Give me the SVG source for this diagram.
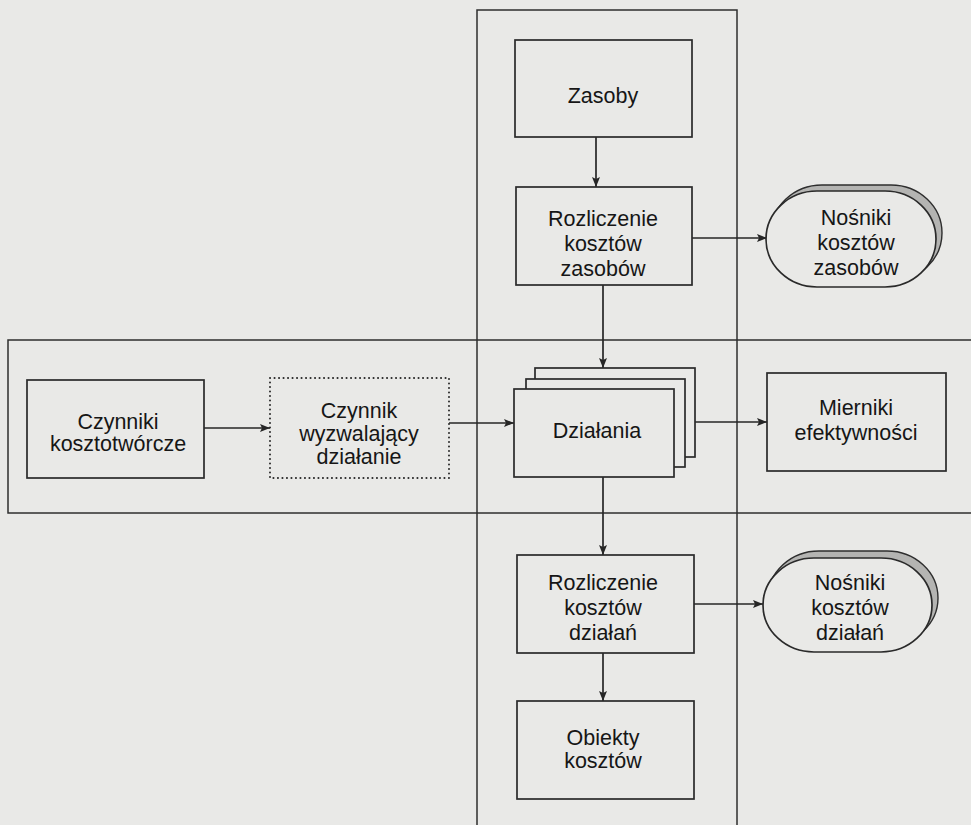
<svg xmlns="http://www.w3.org/2000/svg" width="971" height="825" viewBox="0 0 971 825">
  <defs>
    <marker id="arrow" markerUnits="userSpaceOnUse" markerWidth="11" markerHeight="9" refX="10" refY="4" orient="auto">
      <path d="M0,0 L10,4 L0,8 L2,4 Z" fill="#262626"/>
    </marker>
    <style>
      .page { fill: #e9e9e7; }
      .frame { fill: none; stroke: #2e2e2e; stroke-width: 1.5; }
      .box { fill: #e9e9e7; stroke: #2a2a2a; stroke-width: 1.7; }
      .dotted { fill: #e9e9e7; stroke: #2a2a2a; stroke-width: 2; stroke-dasharray: 0.1 4.4; stroke-linecap: round; }
      .shade { fill: #b4b4b2; stroke: #2e2e2e; stroke-width: 1.4; }
      .link { fill: none; stroke: #262626; stroke-width: 1.7; marker-end: url(#arrow); }
      text { font-family: "Liberation Sans", Arial, sans-serif; font-size: 21.5px; fill: #161616; text-anchor: middle; }
    </style>
  </defs>

  <rect class="page" x="0" y="0" width="971" height="825"/>

  <!-- swimlane frames -->
  <g id="frames">
    <rect class="frame" x="477" y="10" width="260" height="830"/>
    <rect class="frame" x="8" y="340" width="975" height="173"/>
  </g>

  <!-- connectors -->
  <g id="connectors">
    <line class="link" x1="596" y1="137" x2="596" y2="187"/>
    <line class="link" x1="692" y1="238" x2="767" y2="238"/>
    <line class="link" x1="603" y1="285" x2="603" y2="368"/>
    <line class="link" x1="204" y1="428" x2="270" y2="428"/>
    <line class="link" x1="449" y1="423" x2="514" y2="423"/>
    <line class="link" x1="695" y1="422" x2="767" y2="422"/>
    <line class="link" x1="603" y1="477" x2="603" y2="555"/>
    <line class="link" x1="694" y1="604" x2="763" y2="604"/>
    <line class="link" x1="603" y1="653" x2="603" y2="701"/>
  </g>

  <g id="zasoby">
    <rect class="box" x="515" y="40" width="177" height="97"/>
    <text x="603" y="103">Zasoby</text>
  </g>

  <g id="rozliczenie-zasobow">
    <rect class="box" x="516" y="187" width="176" height="98"/>
    <text x="603" y="226">Rozliczenie</text>
    <text x="603" y="251">kosztów</text>
    <text x="603" y="276">zasobów</text>
  </g>

  <!-- oval with a raised rim drawn behind it -->
  <g id="nosniki-zasobow">
    <path class="shade" d="M822,185 H891 A51,48 0 0 1 891,281 H822 A51,48 0 0 1 822,185 Z"/>
    <path class="box" d="M817,191 H885 A51,48 0 0 1 885,287 H817 A51,48 0 0 1 817,191 Z"/>
    <text x="856" y="225">Nośniki</text>
    <text x="856" y="250">kosztów</text>
    <text x="856" y="275">zasobów</text>
  </g>

  <g id="czynniki">
    <rect class="box" x="27" y="380" width="177" height="98"/>
    <text x="118" y="429">Czynniki</text>
    <text x="118" y="451">kosztotwórcze</text>
  </g>

  <g id="czynnik-wyzwalajacy">
    <rect class="dotted" x="270" y="378" width="179" height="100"/>
    <text x="359" y="418">Czynnik</text>
    <text x="359" y="441">wyzwalający</text>
    <text x="359" y="464">działanie</text>
  </g>

  <g id="dzialania">
    <rect class="box" x="535" y="368" width="160" height="89"/>
    <rect class="box" x="526" y="379" width="159" height="88"/>
    <rect class="box" x="514" y="389" width="160" height="88"/>
    <text x="597" y="438">Działania</text>
  </g>

  <g id="mierniki">
    <rect class="box" x="767" y="373" width="179" height="98"/>
    <text x="856" y="415">Mierniki</text>
    <text x="856" y="440">efektywności</text>
  </g>

  <g id="rozliczenie-dzialan">
    <rect class="box" x="517" y="555" width="177" height="98"/>
    <text x="603" y="590">Rozliczenie</text>
    <text x="603" y="615">kosztów</text>
    <text x="603" y="640">działań</text>
  </g>

  <g id="nosniki-dzialan">
    <path class="shade" d="M819,551 H887 A51,47 0 0 1 887,645 H819 A51,47 0 0 1 819,551 Z"/>
    <path class="box" d="M814,558 H881 A51,47 0 0 1 881,652 H814 A51,47 0 0 1 814,558 Z"/>
    <text x="850" y="590">Nośniki</text>
    <text x="850" y="615">kosztów</text>
    <text x="850" y="640">działań</text>
  </g>

  <g id="obiekty">
    <rect class="box" x="517" y="701" width="177" height="98"/>
    <text x="603" y="745">Obiekty</text>
    <text x="603" y="768">kosztów</text>
  </g>
</svg>
